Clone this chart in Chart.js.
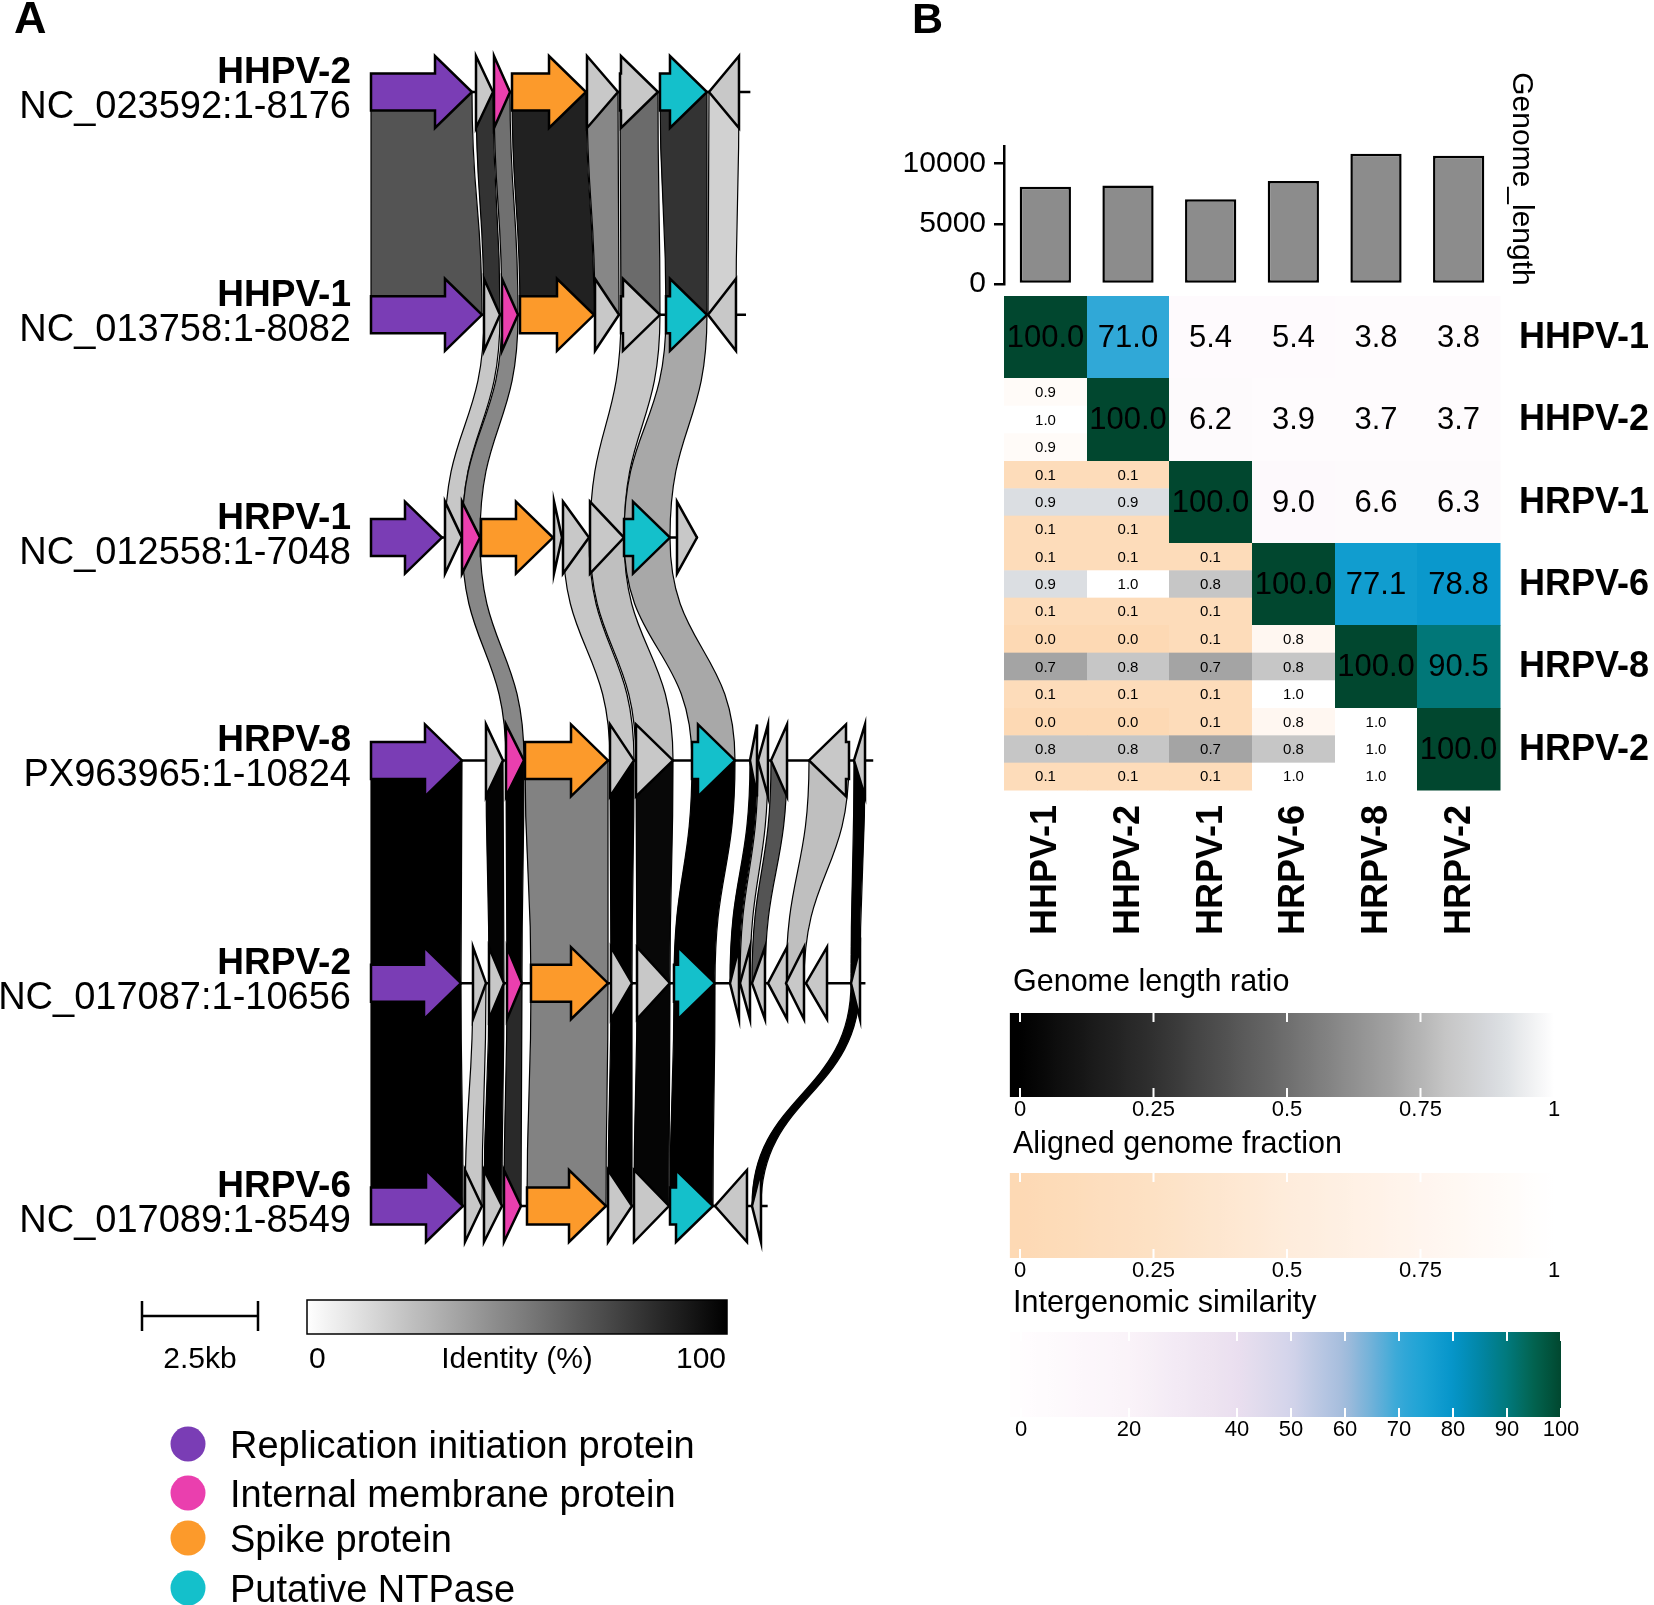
<!DOCTYPE html>
<html><head><meta charset="utf-8">
<script src="https://cdn.jsdelivr.net/npm/chart.js@4.4.1/dist/chart.umd.min.js"></script>
<style>
html,body{margin:0;padding:0;background:#fff;}
#wrap{position:relative;width:1654px;height:1605px;overflow:hidden;background:#fff;}
canvas{position:absolute;}
</style></head><body>
<div id="wrap">
<canvas id="cA" width="880" height="1605" style="left:0;top:0"></canvas>
<canvas id="cBar" width="774" height="310" style="left:880px;top:0"></canvas>
<canvas id="cHeat" width="774" height="680" style="left:880px;top:280px"></canvas>
<canvas id="cGL" width="774" height="200" style="left:880px;top:950px"></canvas>
<canvas id="cAF" width="774" height="200" style="left:880px;top:1112px"></canvas>
<canvas id="cIS" width="774" height="200" style="left:880px;top:1270px"></canvas>
</div>
<script>
const FONT = "'Liberation Sans', Arial, sans-serif";
Chart.defaults.font.family = FONT;
Chart.defaults.color = '#000';

// ---------------- Panel A data ----------------
const A_GENOMES = ['HHPV-2','HHPV-1','HRPV-1','HRPV-8','HRPV-2','HRPV-6'];
const A_ACCESSIONS = ['NC_023592:1-8176','NC_013758:1-8082','NC_012558:1-7048','PX963965:1-10824','NC_017087:1-10656','NC_017089:1-8549'];
const A_LENGTHS = [8176, 8082, 7048, 10824, 10656, 8549];
// genes: [start, end, strand, type]  R=replication, I=internal membrane, S=spike, N=NTPase, O=other
const GENES_HHPV2 = [[0,2177,1,'R'],[2263,2629,1,'O'],[2651,2996,1,'I'],[3039,4634,1,'S'],[4655,5323,1,'O'],[5366,6185,1,'O'],[6228,7241,1,'N'],[7284,7931,-1,'O']];
const GENES_HHPV1 = [[0,2392,1,'R'],[2435,2780,1,'O'],[2823,3168,1,'I'],[3211,4806,1,'S'],[4828,5345,1,'O'],[5388,6228,1,'O'],[6358,7241,1,'N'],[7263,7866,-1,'O']];
const GENES_HRPV1 = [[0,1530,1,'R'],[1595,1961,1,'O'],[1961,2349,1,'I'],[2371,3922,1,'S'],[3944,4116,1,'O'],[4138,4698,1,'O'],[4720,5453,1,'O'],[5453,6444,1,'N'],[6595,7026,1,'O']];
const GENES_HRPV8 = [[0,1961,1,'R'],[2478,2845,1,'O'],[2909,3297,1,'I'],[3319,5108,1,'S'],[5151,5668,1,'O'],[5711,6509,1,'O'],[6918,7845,1,'N'],[8168,8319,-1,'O'],[8341,8556,-1,'O'],[8621,8966,-1,'O'],[9440,10302,-1,'O'],[10409,10647,-1,'O']];
const GENES_HRPV2 = [[0,1940,1,'R'],[2198,2478,1,'O'],[2543,2866,1,'O'],[2931,3254,1,'I'],[3448,5108,1,'S'],[5172,5625,1,'O'],[5733,6444,1,'O'],[6530,7414,1,'N'],[7737,7931,-1,'O'],[7953,8168,-1,'O'],[8211,8491,-1,'O'],[8556,8966,-1,'O'],[8944,9332,-1,'O'],[9375,9828,-1,'O'],[10345,10539,-1,'O']];
const GENES_HRPV6 = [[0,1983,1,'R'],[2026,2392,1,'O'],[2435,2823,1,'O'],[2866,3233,1,'I'],[3362,5065,1,'S'],[5108,5625,1,'O'],[5668,6422,1,'O'],[6444,7371,1,'N'],[7414,8103,-1,'O'],[8211,8405,-1,'O']];
const A_GENES = [GENES_HHPV2, GENES_HHPV1, GENES_HRPV1, GENES_HRPV8, GENES_HRPV2, GENES_HRPV6];
// links between consecutive genomes: [topStart, topEnd, bottomStart, bottomEnd, identity %]
const LINKS_1 = [[0,2177,0,2392,67],[2263,2629,2435,2780,80],[2651,2996,2823,3168,56],[3039,4634,3211,4806,87],[4655,5323,4828,5345,47],[5366,6185,5388,6228,58],[6228,7241,6358,7241,80],[7284,7931,7263,7866,18]];
const LINKS_2 = [[2435,2780,1595,1961,22],[2823,3168,1961,2349,47],[5388,6228,4720,5453,22],[6358,7241,5453,6444,34]];
const LINKS_3 = [[1961,2349,2909,3297,47],[4138,4698,5151,5668,22],[4720,5453,5711,6509,25],[5453,6444,6918,7845,34]];
const LINKS_4 = [[0,1961,0,1940,100],[2478,2845,2543,2866,99],[2909,3297,2931,3254,100],[3319,5108,3448,5108,49],[5151,5668,5172,5625,100],[5711,6509,5733,6444,97],[6918,7845,6530,7414,100],[8168,8319,7737,7931,100],[8341,8556,7953,8168,25],[8621,8966,8211,8491,67],[9440,10302,8944,9332,25],[10409,10647,10345,10539,100]];
const LINKS_5 = [[0,1940,0,1983,100],[2198,2478,2026,2392,22],[2543,2866,2435,2823,100],[2931,3254,2866,3233,84],[3448,5108,3362,5065,49],[5172,5625,5108,5625,100],[5733,6444,5668,6422,98],[6530,7414,6444,7371,100],[10345,10539,8211,8405,100]];
const A_LINKS = [LINKS_1, LINKS_2, LINKS_3, LINKS_4, LINKS_5];
const SCALE_BAR_BP = 2500;
const LEGEND_KEYS = ['R','I','S','N'];
const LEGEND_LABELS = ['Replication initiation protein','Internal membrane protein','Spike protein','Putative NTPase'];

// ---------------- Panel B data ----------------
const B_GENOMES = ['HHPV-1','HHPV-2','HRPV-1','HRPV-6','HRPV-8','HRPV-2'];
const B_GENOME_LENGTH = [8082, 8176, 7048, 8549, 10824, 10656];
const B_LENGTH_TICKS = [0, 5000, 10000];
const B_SIMILARITY = [
  [100.0, 71.0, 5.4, 5.4, 3.8, 3.8],
  [null, 100.0, 6.2, 3.9, 3.7, 3.7],
  [null, null, 100.0, 9.0, 6.6, 6.3],
  [null, null, null, 100.0, 77.1, 78.8],
  [null, null, null, null, 100.0, 90.5],
  [null, null, null, null, null, 100.0]];
const B_ALIGNED_TOP = [[], [0.9], [0.1,0.1], [0.1,0.1,0.1], [0.0,0.0,0.1,0.8], [0.0,0.0,0.1,0.8,1.0]];
const B_LENGTH_RATIO = [[], [1.0], [0.9,0.9], [0.9,1.0,0.8], [0.7,0.8,0.7,0.8], [0.8,0.8,0.7,0.8,1.0]];
const B_ALIGNED_BOTTOM = [[], [0.9], [0.1,0.1], [0.1,0.1,0.1], [0.1,0.1,0.1,1.0], [0.1,0.1,0.1,1.0,1.0]];
const RATIO_TICKS = [0, 0.25, 0.5, 0.75, 1];
const SIM_TICKS = [0, 20, 40, 50, 60, 70, 80, 90, 100];

// ---------------- colour scales ----------------
const GENE_COLORS = {R:'#7a3db5', I:'#ea3fae', S:'#fc9a2b', N:'#14c0cb', O:'#c8c8c8'};
const IDENTITY_STOPS = [[0,'#ffffff'],[100,'#000000']];
const RATIO_STOPS = [[0,'#000000'],[0.25,'#303030'],[0.5,'#6e6e6e'],[0.7,'#a4a4a4'],[0.8,'#c6c6c6'],[0.9,'#dbdee2'],[1,'#ffffff']];
const ALIGN_STOPS = [[0,'#fdd9b4'],[0.25,'#fde1c4'],[0.5,'#feecdb'],[0.75,'#fff5ee'],[1,'#ffffff']];
const SIM_STOPS = [[0,'#fffdfe'],[20,'#faf3f9'],[40,'#eadfef'],[50,'#d3d4ea'],[60,'#a3bcdc'],[65,'#70b1d9'],[70,'#36a9d8'],[75,'#1aa2d4'],[80,'#0595c9'],[85,'#0286a6'],[90,'#01797c'],[95,'#02634f'],[100,'#01472f']];

function hexToRgb(h){ return [parseInt(h.slice(1,3),16), parseInt(h.slice(3,5),16), parseInt(h.slice(5,7),16)]; }
function scaleColor(stops, v){
  if (v <= stops[0][0]) return stops[0][1];
  for (let i = 1; i < stops.length; i++){
    if (v <= stops[i][0]){
      const [v0,c0] = stops[i-1], [v1,c1] = stops[i];
      const t = (v - v0) / (v1 - v0), a = hexToRgb(c0), b = hexToRgb(c1);
      return 'rgb(' + [0,1,2].map(k => Math.round(a[k] + (b[k]-a[k]) * t)).join(',') + ')';
    }
  }
  return stops[stops.length-1][1];
}
function gradientFor(ctx, scale, stops, vFrom, vTo){
  const x0 = scale.getPixelForValue(vFrom), x1 = scale.getPixelForValue(vTo);
  const g = ctx.createLinearGradient(x0, 0, x1, 0);
  for (let k = 0; k <= 60; k++){
    const v = vFrom + (vTo - vFrom) * k / 60;
    g.addColorStop(k/60, scaleColor(stops, v));
  }
  return g;
}

// ---------------- Panel A ----------------
function drawGene(ctx, x1, x2, yc, strand, color){
  const HH = 36, BH = 18.5, HL = 37;
  const L = x2 - x1, h = Math.min(HL, L);
  ctx.beginPath();
  if (strand > 0){
    const xh = x2 - h;
    if (h >= L - 0.5){ ctx.moveTo(x1, yc-HH); ctx.lineTo(x2, yc); ctx.lineTo(x1, yc+HH); }
    else { ctx.moveTo(x1, yc-BH); ctx.lineTo(xh, yc-BH); ctx.lineTo(xh, yc-HH); ctx.lineTo(x2, yc); ctx.lineTo(xh, yc+HH); ctx.lineTo(xh, yc+BH); ctx.lineTo(x1, yc+BH); }
  } else {
    const xh = x1 + h;
    if (h >= L - 0.5){ ctx.moveTo(x2, yc-HH); ctx.lineTo(x1, yc); ctx.lineTo(x2, yc+HH); }
    else { ctx.moveTo(x2, yc-BH); ctx.lineTo(xh, yc-BH); ctx.lineTo(xh, yc-HH); ctx.lineTo(x1, yc); ctx.lineTo(xh, yc+HH); ctx.lineTo(xh, yc+BH); ctx.lineTo(x2, yc+BH); }
  }
  ctx.closePath();
  ctx.fillStyle = color; ctx.fill();
  ctx.lineJoin = 'miter'; ctx.lineWidth = 2.5; ctx.strokeStyle = '#000'; ctx.stroke();
}

const pluginA = {
  id: 'panelA',
  beforeDatasetsDraw(chart){
    const ctx = chart.ctx, x = chart.scales.x, y = chart.scales.y;
    ctx.save();
    A_LINKS.forEach((links, i) => {
      const y0 = y.getPixelForValue(i), y1 = y.getPixelForValue(i+1), ym = (y0+y1)/2;
      links.forEach(([a,b,c,d,id]) => {
        const xa = x.getPixelForValue(a), xb = x.getPixelForValue(b), xc = x.getPixelForValue(c), xd = x.getPixelForValue(d);
        ctx.beginPath();
        ctx.moveTo(xa, y0); ctx.lineTo(xb, y0);
        ctx.bezierCurveTo(xb, ym, xd, ym, xd, y1);
        ctx.lineTo(xc, y1);
        ctx.bezierCurveTo(xc, ym, xa, ym, xa, y0);
        ctx.closePath();
        ctx.fillStyle = scaleColor(IDENTITY_STOPS, id); ctx.fill();
        ctx.lineWidth = 1.2; ctx.strokeStyle = '#000'; ctx.stroke();
      });
    });
    ctx.restore();
  },
  afterDatasetsDraw(chart){
    const ctx = chart.ctx, x = chart.scales.x, y = chart.scales.y;
    ctx.save();
    const labelX = x.getPixelForValue(0) - 20;
    A_GENES.forEach((genes, i) => {
      const yc = y.getPixelForValue(i);
      genes.forEach(([s,e,str,t]) => drawGene(ctx, x.getPixelForValue(s), x.getPixelForValue(e), yc, str, GENE_COLORS[t]));
      ctx.fillStyle = '#000'; ctx.textAlign = 'right'; ctx.textBaseline = 'alphabetic';
      ctx.font = 'bold 37px ' + FONT; ctx.fillText(A_GENOMES[i], labelX, yc - 9);
      ctx.font = '38px ' + FONT; ctx.fillText(A_ACCESSIONS[i], labelX, yc + 26);
    });
    // panel letter
    ctx.textAlign = 'left'; ctx.font = 'bold 45px ' + FONT; ctx.fillText('A', 14, 33);
    // scale bar
    const sbw = x.getPixelForValue(SCALE_BAR_BP) - x.getPixelForValue(0);
    const sbc = 200, sby = 1316;
    ctx.lineWidth = 2.5; ctx.strokeStyle = '#000';
    ctx.beginPath();
    ctx.moveTo(sbc - sbw/2, sby); ctx.lineTo(sbc + sbw/2, sby);
    ctx.moveTo(sbc - sbw/2, sby - 15); ctx.lineTo(sbc - sbw/2, sby + 15);
    ctx.moveTo(sbc + sbw/2, sby - 15); ctx.lineTo(sbc + sbw/2, sby + 15);
    ctx.stroke();
    ctx.font = '30px ' + FONT; ctx.textAlign = 'center';
    ctx.fillText((SCALE_BAR_BP/1000) + 'kb', sbc, 1368);
    // identity colour bar
    const ib = {l:307, r:727, t:1300, b:1334};
    const g = ctx.createLinearGradient(ib.l, 0, ib.r, 0);
    for (let k = 0; k <= 20; k++) g.addColorStop(k/20, scaleColor(IDENTITY_STOPS, k*5));
    ctx.fillStyle = g; ctx.fillRect(ib.l, ib.t, ib.r-ib.l, ib.b-ib.t);
    ctx.lineWidth = 1.5; ctx.strokeRect(ib.l, ib.t, ib.r-ib.l, ib.b-ib.t);
    ctx.fillStyle = '#000';
    ctx.textAlign = 'left'; ctx.fillText('0', ib.l + 2, 1368);
    ctx.textAlign = 'center'; ctx.fillText('Identity (%)', 517, 1368);
    ctx.textAlign = 'right'; ctx.fillText('100', ib.r - 1, 1368);
    // gene legend
    const legY = [1444, 1493, 1538, 1588];
    LEGEND_KEYS.forEach((k, i) => {
      ctx.beginPath(); ctx.arc(188, legY[i], 17.5, 0, Math.PI*2);
      ctx.fillStyle = GENE_COLORS[k]; ctx.fill();
      ctx.fillStyle = '#000'; ctx.textAlign = 'left'; ctx.font = '38px ' + FONT;
      ctx.fillText(LEGEND_LABELS[i], 230, legY[i] + 14);
    });
    ctx.restore();
  }
};

new Chart(document.getElementById('cA'), {
  type: 'scatter',
  data: { datasets: A_LENGTHS.map((len, i) => ({
    data: [{x:0, y:i}, {x:len, y:i}], showLine: true, borderColor: '#000', borderWidth: 2.5,
    pointRadius: 0, clip: false
  })) },
  options: {
    responsive: false, animation: false, events: [],
    plugins: { legend: {display:false}, tooltip: {enabled:false} },
    layout: { padding: {left: 371, right: 9, top: 92, bottom: 399} },
    scales: {
      x: { type:'linear', display:false, min:0, max:10776 },
      y: { type:'linear', display:false, min:0, max:5, reverse:true }
    }
  },
  plugins: [pluginA]
});

// ---------------- Panel B: genome length bars ----------------
const pluginBar = {
  id: 'barDeco',
  afterDraw(chart){
    const ctx = chart.ctx;
    ctx.save();
    ctx.fillStyle = '#000';
    ctx.font = 'bold 43px ' + FONT; ctx.textAlign = 'left'; ctx.textBaseline = 'alphabetic';
    ctx.fillText('B', 32, 33);
    ctx.translate(641, 179); ctx.rotate(Math.PI/2);
    ctx.font = '30px ' + FONT; ctx.textAlign = 'center'; ctx.textBaseline = 'middle';
    ctx.fillText('Genome_length', 0, 0);
    ctx.restore();
  }
};
new Chart(document.getElementById('cBar'), {
  type: 'bar',
  data: { labels: B_GENOMES, datasets: [{ data: B_GENOME_LENGTH, backgroundColor: '#8c8c8c', borderColor: '#000', borderWidth: 2.5, borderSkipped: false, barPercentage: 0.62, categoryPercentage: 1 }] },
  options: {
    responsive: false, animation: false, events: [],
    plugins: { legend: {display:false}, tooltip: {enabled:false} },
    layout: { padding: {left: 24, right: 154, top: 146, bottom: 25} },
    scales: {
      x: { display: false, offset: true },
      y: {
        min: 0, max: 11460,
        afterBuildTicks(s){ s.ticks = B_LENGTH_TICKS.map(v => ({value: v})); },
        afterFit(s){ s.width = 100; },
        border: { display: true, color: '#000', width: 2.5 },
        grid: { display: true, drawOnChartArea: false, drawTicks: true, tickLength: 10, color: '#000', lineWidth: 2.5 },
        ticks: { font: {size: 30}, color: '#000', padding: 8, callback: v => String(v) }
      }
    }
  },
  plugins: [pluginBar]
});

// ---------------- Panel B: heatmap ----------------
const pluginHeat = {
  id: 'heat',
  afterDatasetsDraw(chart){
    const ctx = chart.ctx, x = chart.scales.x, y = chart.scales.y;
    ctx.save();
    ctx.textAlign = 'center'; ctx.textBaseline = 'middle';
    for (let r = 0; r < 6; r++){
      for (let c = 0; c < 6; c++){
        const xl = Math.round(x.getPixelForValue(c-0.5)), xr = Math.round(x.getPixelForValue(c+0.5));
        const yt = Math.round(y.getPixelForValue(r-0.5)), yb = Math.round(y.getPixelForValue(r+0.5));
        const xc = (xl+xr)/2, yc = (yt+yb)/2;
        if (c >= r){
          const v = B_SIMILARITY[r][c];
          ctx.fillStyle = scaleColor(SIM_STOPS, v); ctx.fillRect(xl, yt, xr-xl+0.5, yb-yt+0.5);
          ctx.fillStyle = '#000'; ctx.font = '31px ' + FONT;
          ctx.fillText(v.toFixed(1), xc, yc + 1);
        } else {
          const vals = [B_ALIGNED_TOP[r][c], B_LENGTH_RATIO[r][c], B_ALIGNED_BOTTOM[r][c]];
          const stops = [ALIGN_STOPS, RATIO_STOPS, ALIGN_STOPS];
          const h3 = (yb - yt) / 3;
          for (let k = 0; k < 3; k++){
            const st = yt + k*h3;
            ctx.fillStyle = scaleColor(stops[k], vals[k]); ctx.fillRect(xl, st, xr-xl+0.5, h3+0.5);
            ctx.fillStyle = '#000'; ctx.font = '15px ' + FONT;
            ctx.fillText(vals[k].toFixed(1), xc, st + h3/2 + 1);
          }
        }
      }
    }
    // row labels (right)
    ctx.font = 'bold 36px ' + FONT; ctx.textAlign = 'left'; ctx.textBaseline = 'middle';
    const rx = chart.chartArea.right + 19;
    B_GENOMES.forEach((g, i) => ctx.fillText(g, rx, y.getPixelForValue(i) + 1));
    // column labels (bottom, rotated)
    const by = chart.chartArea.bottom + 15;
    B_GENOMES.forEach((g, i) => {
      ctx.save(); ctx.translate(x.getPixelForValue(i) + 1, by); ctx.rotate(-Math.PI/2);
      ctx.textAlign = 'right'; ctx.textBaseline = 'middle'; ctx.fillText(g, 0, 0);
      ctx.restore();
    });
    ctx.restore();
  }
};
const heatPoints = [];
for (let r = 0; r < 6; r++) for (let c = 0; c < 6; c++) heatPoints.push({x:c, y:r});
new Chart(document.getElementById('cHeat'), {
  type: 'scatter',
  data: { datasets: [{ data: heatPoints, pointRadius: 0 }] },
  options: {
    responsive: false, animation: false, events: [],
    plugins: { legend: {display:false}, tooltip: {enabled:false} },
    layout: { padding: {left: 124, right: 154, top: 16, bottom: 170} },
    scales: {
      x: { type:'linear', display:false, min:-0.5, max:5.5 },
      y: { type:'linear', display:false, min:-0.5, max:5.5, reverse:true }
    }
  },
  plugins: [pluginHeat]
});

// ---------------- Panel B: colour bars ----------------
function makeColorbar(id, cfg){
  return new Chart(document.getElementById(id), {
    type: 'scatter',
    data: { datasets: [{ data: [] }] },
    options: {
      responsive: false, animation: false, events: [],
      plugins: { legend: {display:false}, tooltip: {enabled:false} },
      layout: { padding: cfg.padding },
      scales: {
        x: {
          type: 'linear', position: 'bottom', min: cfg.min, max: cfg.max,
          afterBuildTicks(s){ s.ticks = cfg.ticks.map(v => ({value: v})); },
          afterFit(s){ s.height = 30; },
          grid: { display: false, drawTicks: false },
          border: { display: false },
          ticks: { autoSkip: false, maxRotation: 0, minRotation: 0, padding: 0, font: {size: 22}, color: '#000', callback: v => String(v) }
        },
        y: { display: false, min: 0, max: 1 }
      }
    },
    plugins: [{
      id: 'cb_' + id,
      beforeDatasetsDraw(chart){
        const ctx = chart.ctx, x = chart.scales.x, a = chart.chartArea;
        ctx.save();
        const x0 = x.getPixelForValue(cfg.barFrom), x1 = x.getPixelForValue(cfg.max);
        ctx.fillStyle = gradientFor(ctx, x, cfg.stops, cfg.barFrom, cfg.max);
        ctx.fillRect(x0, a.top, x1 - x0, a.bottom - a.top);
        ctx.strokeStyle = '#fff'; ctx.lineWidth = 2;
        cfg.ticks.forEach(v => {
          const px = x.getPixelForValue(v);
          ctx.beginPath();
          ctx.moveTo(px, a.top); ctx.lineTo(px, a.top + 9);
          ctx.moveTo(px, a.bottom - 9); ctx.lineTo(px, a.bottom);
          ctx.stroke();
        });
        ctx.fillStyle = '#000'; ctx.font = '30.5px ' + FONT; ctx.textAlign = 'left'; ctx.textBaseline = 'alphabetic';
        ctx.fillText(cfg.title, 133, cfg.titleY);
        ctx.restore();
      }
    }]
  });
}
makeColorbar('cGL', { title: 'Genome length ratio', titleY: 41, min: 0, max: 1, barFrom: -0.019, ticks: RATIO_TICKS, stops: RATIO_STOPS, padding: {left: 140, right: 100, top: 63, bottom: 23} });
makeColorbar('cAF', { title: 'Aligned genome fraction', titleY: 41, min: 0, max: 1, barFrom: -0.019, ticks: RATIO_TICKS, stops: ALIGN_STOPS, padding: {left: 140, right: 100, top: 61, bottom: 24} });
makeColorbar('cIS', { title: 'Intergenomic similarity', titleY: 42, min: 0, max: 100, barFrom: -2, ticks: SIM_TICKS, stops: SIM_STOPS, padding: {left: 141, right: 93, top: 62, bottom: 23} });
</script>
</body></html>
